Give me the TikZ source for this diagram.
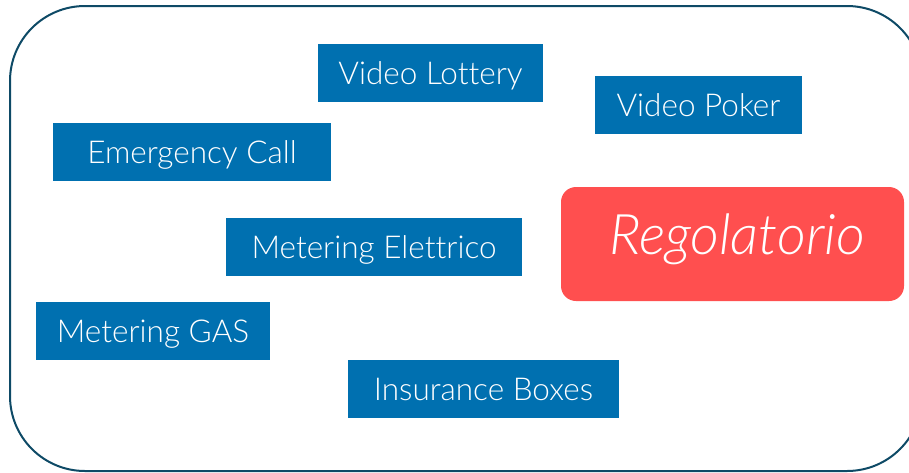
\documentclass[tikz,border=0pt]{standalone}
\usepackage{fontspec}
\setmainfont{Lato}[UprightFont={* Light},ItalicFont={* Light Italic},Ligatures={NoCommon,NoRare,NoDiscretionary}]
\definecolor{framecol}{HTML}{0E4A66}
\definecolor{boxblue}{HTML}{0070B0}
\definecolor{regred}{HTML}{FF4F4F}
\begin{document}
\begin{tikzpicture}[x=1pt,y=-1pt,
  bluebox/.style={fill=boxblue,text=white,inner sep=0pt,minimum height=58pt,
    font=\fontsize{31.5}{31.5}\selectfont,text height=22.5pt,text depth=0pt},
  redbox/.style={fill=regred,rounded corners=15pt,inner sep=0pt,minimum width=343pt,minimum height=114pt},
  redtext/.style={text=white,inner sep=0pt,font=\itshape\fontsize{56}{56}\selectfont,text height=40pt,text depth=0pt}]
\useasboundingbox (0,0) rectangle (909,472);
\draw[framecol,line width=2pt,rounded corners=75pt] (10,6) rectangle (922,471);
\node[bluebox,minimum width=225pt] (vl) at (430.5,73) {Video Lottery};
\node[bluebox,minimum width=207pt] (vp) at (698.5,105) {Video Poker};
\node[bluebox,minimum width=278pt] (ec) at (192,152) {Emergency Call};
\node[bluebox,minimum width=296pt] (me) at (374,247) {Metering Elettrico};
\node[bluebox,minimum width=234pt] (mg) at (153,331) {Metering GAS};
\node[bluebox,minimum width=271pt] (ib) at (483.5,389) {Insurance Boxes};
\node[redbox] (reg) at (732.5,244) {};
\node[redtext] (regt) at (737,234) {Regolatorio};
\end{tikzpicture}
\end{document}
